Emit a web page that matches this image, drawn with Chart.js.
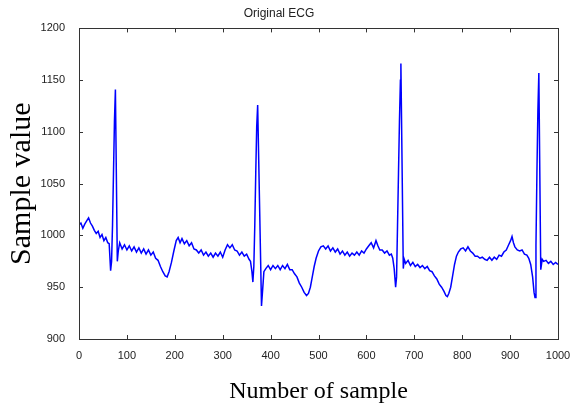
<!DOCTYPE html>
<html>
<head>
<meta charset="utf-8">
<script src="https://cdn.jsdelivr.net/npm/chart.js@4.4.0/dist/chart.umd.min.js"></script>
<style>
  html, body { margin: 0; padding: 0; background: #fff; }
  #wrap { width: 582px; height: 408px; position: relative; }
</style>
</head>
<body>
<div id="wrap"><canvas id="ecgChart"></canvas></div>
<script>
// Sample numbers
const sampleIdx = [
  0, 4, 8, 12, 16, 20, 24, 28, 32, 36, 40, 44, 48, 52, 56, 60, 63, 66, 68, 70,
  72, 74, 76, 80, 82, 85, 90, 95, 100, 105, 110, 115, 120, 125, 130, 135, 140, 145,
  150, 155, 160, 165, 170, 175, 180, 184, 188, 193, 198, 203, 207, 211, 215, 220, 225, 230, 235, 240,
  245, 250, 255, 260, 265, 270, 275, 280, 285, 290, 295, 300, 305, 310, 315, 320, 325, 330, 335, 340,
  345, 350, 355, 358, 361, 363, 365, 367, 369, 371, 373, 381, 383, 386, 390, 395, 400,
  405, 410, 415, 420, 425, 430, 435, 440, 445, 450, 455, 460, 465, 470, 475, 479, 483, 487, 491, 495,
  500, 505, 510, 515, 520, 525, 530, 535, 540, 545, 550, 555, 560, 565, 570, 575, 580, 585, 590, 595,
  600, 605, 610, 615, 620, 624, 628, 633, 638, 643, 648, 652, 655, 658, 661, 663, 665, 667, 669, 671,
  672, 677, 679, 682, 687, 692, 697, 702, 707, 712, 717, 722, 727, 732, 737, 742, 747,
  752, 757, 762, 766, 769, 772, 776, 780, 784, 788, 792, 797, 802, 807, 812, 817, 822, 827, 832, 837,
  842, 847, 852, 857, 862, 867, 872, 877, 882, 887, 892, 897, 901, 904, 907, 910, 915, 920, 925, 930,
  935, 939, 943, 947, 950, 952, 954, 956, 958, 960, 964, 967, 970, 975, 980, 985, 990,
  995, 1000
];

// Sample values
const sampleVal = [
  1010, 1012, 1007, 1011, 1014, 1017, 1012, 1009, 1005, 1002, 1004, 998, 1001, 995, 998, 993, 992, 966, 975, 1010,
  1060, 1110, 1141, 975, 985, 993, 987, 991, 986, 990, 985, 989, 984, 988, 983, 987, 982, 986,
  981, 984, 978, 976, 970, 965, 961, 960, 965, 974, 985, 995, 998, 993, 997, 992, 995, 990, 993, 987,
  986, 983, 986, 981, 984, 980, 983, 979, 983, 980, 984, 979, 986, 991, 988, 991, 986, 985, 981, 984,
  980, 982, 977, 975, 965, 955, 970, 1010, 1060, 1105, 1126, 932, 945, 965, 968, 971, 967,
  971, 968, 971, 967, 971, 968, 972, 967, 967, 963, 960, 954, 950, 945, 942, 944, 950, 960, 970, 978,
  985, 989, 990, 987, 990, 985, 988, 984, 987, 982, 985, 981, 984, 980, 983, 981, 984, 981, 985, 983,
  987, 990, 993, 988, 995, 990, 986, 986, 983, 985, 981, 982, 978, 968, 950, 960, 1010, 1060, 1110, 1150,
  1166, 968, 977, 973, 976, 971, 974, 970, 972, 969, 971, 968, 970, 966, 965, 961, 958,
  953, 950, 946, 942, 941, 944, 950, 961, 972, 980, 984, 987, 988, 985, 989, 985, 983, 980, 980, 978,
  979, 977, 976, 979, 976, 979, 977, 981, 980, 984, 986, 991, 995, 999, 993, 989, 986, 985, 986, 982,
  981, 978, 972, 960, 945, 940, 990, 1060, 1120, 1157, 967, 977, 975, 976, 973, 975, 972,
  974, 972
];

const xMin = 0, xMax = 1000, xStep = 100;
const yMin = 900, yMax = 1200, yStep = 50;

// MATLAB style box with inward ticks on all four sides
const boxTicks = {
  id: 'boxTicks',
  afterDraw(chart) {
    const {ctx, chartArea: a, scales} = chart;
    const len = 4;
    ctx.save();
    ctx.strokeStyle = '#333';
    ctx.lineWidth = 1;
    ctx.strokeRect(Math.round(a.left) + 0.5, Math.round(a.top) + 0.5,
      Math.round(a.right - a.left), Math.round(a.bottom - a.top));
    ctx.beginPath();
    scales.x.ticks.forEach(t => {
      const px = Math.round(scales.x.getPixelForValue(t.value)) + 0.5;
      ctx.moveTo(px, a.bottom); ctx.lineTo(px, a.bottom - len);
      ctx.moveTo(px, a.top); ctx.lineTo(px, a.top + len);
    });
    scales.y.ticks.forEach(t => {
      const py = Math.round(scales.y.getPixelForValue(t.value)) + 0.5;
      ctx.moveTo(a.left, py); ctx.lineTo(a.left + len, py);
      ctx.moveTo(a.right, py); ctx.lineTo(a.right - len, py);
    });
    ctx.stroke();
    ctx.restore();
  }
};

const tickFont = {family: "'Liberation Sans', Arial, sans-serif", size: 11};
const labelFont = {family: "'Liberation Serif', 'Times New Roman', serif"};
const plainNum = v => String(v);

new Chart(document.getElementById('ecgChart'), {
  type: 'line',
  data: {
    datasets: [{
      label: 'Original ECG',
      data: sampleIdx.map((x, i) => ({x: x, y: sampleVal[i]})),
      borderColor: '#0000ff',
      borderWidth: 1.5,
      pointRadius: 0,
      tension: 0,
      fill: false
    }]
  },
  options: {
    responsive: true,
    maintainAspectRatio: false,
    animation: false,
    layout: {padding: {left: 0, right: 24, top: 0, bottom: 0}},
    plugins: {
      legend: {display: false},
      tooltip: {enabled: false},
      title: {
        display: true,
        text: 'Original ECG',
        color: '#222',
        font: {family: "'Liberation Sans', Arial, sans-serif", size: 12, weight: 'normal'},
        padding: {top: 6, bottom: 8}
      }
    },
    scales: {
      x: {
        type: 'linear',
        min: xMin,
        max: xMax,
        grid: {display: false},
        border: {display: false},
        ticks: {stepSize: xStep, color: '#222', font: tickFont, padding: 2, maxRotation: 0, callback: plainNum},
        title: {display: true, text: 'Number of sample', color: '#000',
          font: Object.assign({size: 24}, labelFont), padding: {top: 0, bottom: 2}},
        afterFit(scale) { scale.height = 69; }
      },
      y: {
        min: yMin,
        max: yMax,
        grid: {display: false},
        border: {display: false},
        ticks: {stepSize: yStep, color: '#222', font: tickFont, padding: 6, callback: plainNum},
        title: {display: true, text: 'Sample value', color: '#000',
          font: Object.assign({size: 30}, labelFont), padding: {top: 4, bottom: 0}},
        afterFit(scale) { scale.width = 79; }
      }
    }
  },
  plugins: [boxTicks]
});
</script>
</body>
</html>
